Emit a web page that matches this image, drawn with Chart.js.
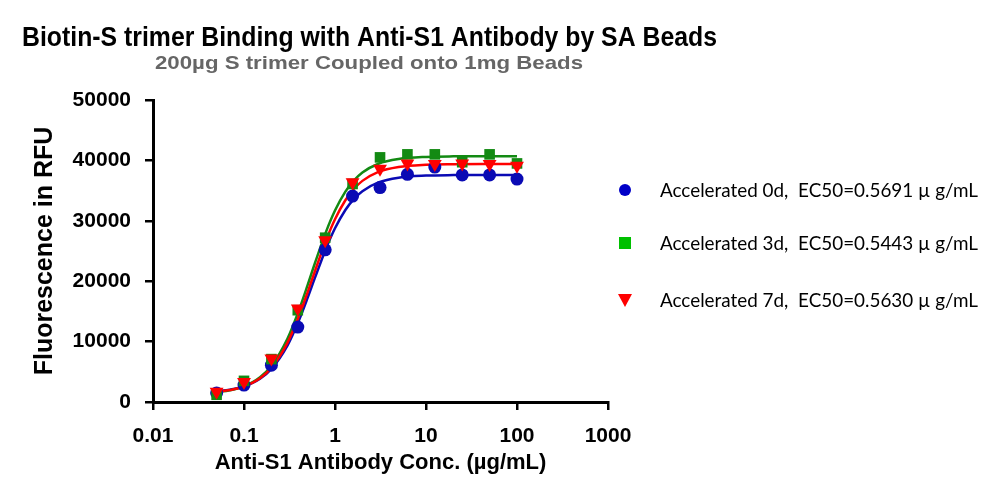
<!DOCTYPE html>
<html>
<head>
<meta charset="utf-8">
<script src="https://cdn.jsdelivr.net/npm/chart.js@4.4.0/dist/chart.umd.min.js"></script>
<style>
html,body{margin:0;padding:0;background:#fff;}
#wrap{width:1000px;height:494px;}
</style>
</head>
<body>
<div id="wrap"><canvas id="c" width="1000" height="494"></canvas></div>
<script>
// ---- data ----
const conc = [0.05, 0.1, 0.2, 0.39, 0.78, 1.56, 3.125, 6.25, 12.5, 25, 50, 100];
const day0 = [1500, 2800, 6100, 12400, 25200, 34100, 35500, 37700, 38900, 37600, 37600, 36900];
const day3 = [1200, 3500, 7100, 15200, 27200, 36100, 40500, 41000, 41000, 39700, 41000, 39500];
const day7 = [1700, 3300, 7200, 15500, 26800, 36400, 38600, 39500, 39400, 39500, 39400, 39100];

// fitted curves
const curveX = [0.05, 0.07, 0.1, 0.15, 0.2, 0.3, 0.4, 0.5, 0.6, 0.8, 1, 1.3, 1.6, 2, 3, 5, 10, 20, 50, 100];
const fit0 = [1780, 2040, 2580, 3850, 5470, 9340, 13450, 17230, 20500, 25470, 28760, 31790, 33550, 34890, 36350, 37140, 37480, 37570, 37595, 37600];
const fit3 = [1630, 1940, 2590, 4090, 5990, 10480, 15130, 19340, 22930, 28250, 31700, 34830, 36610, 37990, 39450, 40230, 40580, 40670, 40690, 40700];
const fit7 = [1700, 1980, 2560, 3920, 5660, 9800, 14150, 18160, 21610, 26820, 30250, 33400, 35220, 36610, 38110, 38920, 39280, 39370, 39395, 39400];

const seriesNames = [
  "Accelerated 0d,  EC50=0.5691 \u00b5 g/mL",
  "Accelerated 3d,  EC50=0.5443 \u00b5 g/mL",
  "Accelerated 7d,  EC50=0.5630 \u00b5 g/mL"
];
const xTicks = [0.01, 0.1, 1, 10, 100, 1000];
const xTickLabels = ["0.01", "0.1", "1", "10", "100", "1000"];
const yTicks = [0, 10000, 20000, 30000, 40000, 50000];

const titleText = "Biotin-S trimer Binding with Anti-S1 Antibody by SA Beads";
const subtitleText = "200\u00b5g S trimer Coupled onto 1mg Beads";
const xTitle = "Anti-S1 Antibody Conc. (\u00b5g/mL)";
const yTitle = "Fluorescence in RFU";

const pts = (xs, ys) => xs.map((x, i) => ({x: x, y: ys[i]}));

const blue = '#0a0ab4', green = '#138a13', red = '#ff0000';
const legendColors = ['#0000c8', '#00c000', '#ff0000'];
const legendStyles = ['circle', 'rect', 'triangleDown'];

function fitText(ctx, text, x, y, width) {
  const w = ctx.measureText(text).width;
  ctx.save();
  ctx.translate(x, y);
  ctx.scale(width / w, 1);
  ctx.fillText(text, 0, 0);
  ctx.restore();
}

const headerPlugin = {
  id: 'header',
  afterDraw(chart) {
    const ctx = chart.ctx;
    ctx.save();
    ctx.textBaseline = 'alphabetic';
    ctx.textAlign = 'left';
    ctx.fillStyle = '#000';
    ctx.font = 'bold 27px "Liberation Sans", Arial, sans-serif';
    fitText(ctx, titleText, 22, 46, 695);
    ctx.fillStyle = '#666666';
    ctx.font = 'bold 19px "Liberation Sans", Arial, sans-serif';
    fitText(ctx, subtitleText, 155, 69, 428);

    // legend
    const rows = [190, 243, 300];
    ctx.font = '19px Lato, "Open Sans", sans-serif';
    ctx.textBaseline = 'middle';
    for (let i = 0; i < seriesNames.length; i++) {
      const y = rows[i], x = 625;
      ctx.fillStyle = legendColors[i];
      ctx.beginPath();
      if (legendStyles[i] === 'circle') {
        ctx.arc(x, y, 6, 0, Math.PI * 2);
      } else if (legendStyles[i] === 'rect') {
        ctx.rect(x - 6, y - 6, 12, 12);
      } else {
        ctx.moveTo(x - 7, y - 6); ctx.lineTo(x + 7, y - 6); ctx.lineTo(x, y + 7); ctx.closePath();
      }
      ctx.fill();
      ctx.fillStyle = '#000';
      fitText(ctx, seriesNames[i], 660, y + 1, 318);
    }
    ctx.restore();
  }
};

const tickFont = {family: '"Liberation Sans", Arial, sans-serif', size: 21, weight: 'bold'};

new Chart(document.getElementById('c'), {
  type: 'scatter',
  data: {
    datasets: [
      {label: seriesNames[2], data: pts(conc, day7), pointStyle: 'triangle', rotation: 180, pointRadius: 8, backgroundColor: red, borderColor: red, borderWidth: 0, showLine: false, order: 1},
      {label: seriesNames[1], data: pts(conc, day3), pointStyle: 'rect', pointRadius: 7.5, backgroundColor: green, borderColor: green, borderWidth: 0, showLine: false, order: 2},
      {label: seriesNames[0], data: pts(conc, day0), pointStyle: 'circle', pointRadius: 6.5, backgroundColor: blue, borderColor: blue, borderWidth: 0, showLine: false, order: 3},
      {label: 'fit7', data: pts(curveX, fit7), showLine: true, pointRadius: 0, borderColor: red, borderWidth: 2.5, cubicInterpolationMode: 'monotone', order: 4},
      {label: 'fit3', data: pts(curveX, fit3), showLine: true, pointRadius: 0, borderColor: green, borderWidth: 2.5, cubicInterpolationMode: 'monotone', order: 5},
      {label: 'fit0', data: pts(curveX, fit0), showLine: true, pointRadius: 0, borderColor: blue, borderWidth: 2.5, cubicInterpolationMode: 'monotone', order: 6}
    ]
  },
  options: {
    responsive: false,
    animation: false,
    devicePixelRatio: 1,
    layout: {padding: {top: 100, right: 392, bottom: 0, left: 0}},
    plugins: {legend: {display: false}, tooltip: {enabled: false}, title: {display: false}},
    scales: {
      x: {
        type: 'logarithmic',
        min: 0.01, max: 1000,
        afterBuildTicks(scale) { scale.ticks = xTicks.map(v => ({value: v})); },
        afterFit(scale) { scale.height = 92; },
        ticks: {
          color: '#000', font: tickFont, padding: 14, maxRotation: 0, autoSkip: false,
          callback(value) { const i = xTicks.indexOf(value); return i >= 0 ? xTickLabels[i] : ''; }
        },
        grid: {display: true, drawOnChartArea: false, drawTicks: true, tickLength: 8, color: '#000', lineWidth: 2.5},
        border: {display: true, color: '#000', width: 3},
        title: {display: true, text: xTitle, color: '#000', font: {family: '"Liberation Sans", Arial, sans-serif', size: 22, weight: 'bold'}, padding: {top: 4, bottom: 18}}
      },
      y: {
        type: 'linear',
        min: 0, max: 50000,
        afterBuildTicks(scale) { scale.ticks = yTicks.map(v => ({value: v})); },
        afterFit(scale) { scale.width = 153; },
        ticks: {color: '#000', font: tickFont, padding: 14, callback(value) { return String(value); }},
        grid: {display: true, drawOnChartArea: false, drawTicks: true, tickLength: 8, color: '#000', lineWidth: 2.5},
        border: {display: true, color: '#000', width: 3},
        title: {display: true, text: yTitle, color: '#000', font: {family: '"Liberation Sans", Arial, sans-serif', size: 25, weight: 'bold'}, padding: {top: 30, bottom: 0}}
      }
    }
  },
  plugins: [headerPlugin]
});
</script>
</body>
</html>
